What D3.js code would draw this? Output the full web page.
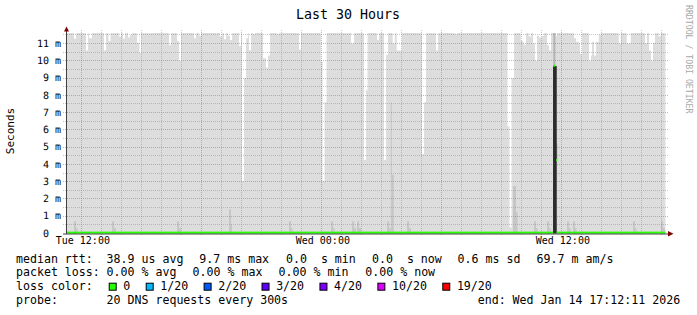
<!DOCTYPE html>
<html><head><meta charset="utf-8">
<script src="https://cdn.jsdelivr.net/npm/d3@7"></script>
<style>
body{margin:0;background:#fff;}
svg{display:block;}
text{font-family:"DejaVu Sans Mono",monospace;white-space:pre;}
</style></head><body>
<svg id="c" width="697" height="315"></svg>
<script>
// ---------------- data ----------------
const title = "Last 30 Hours";
const yAxisLabel = "Seconds";
const watermark = "RRDTOOL / TOBI OETIKER";
// time in hours since Tue 00:00
const timeStartH = 11.2031;   // Tue 11:12:11
const timeEndH = 41.2031;     // Wed 17:12:11
const xTickHours = [12, 24, 36];
const xTickLabels = ["Tue 12:00", "Wed 00:00", "Wed 12:00"];
const yTickValues = [0,1,2,3,4,5,6,7,8,9,10,11];
const yTickLabels = ["0","1 m","2 m","3 m","4 m","5 m","6 m","7 m","8 m","9 m","10 m","11 m"];
const yMaxMs = 11.58;
// upper edge of the smoke where the slowest ping stayed below the top: [startH, endH, ms]
const smokeTopDips = [
  [11.635,11.735,11.28],[12.235,12.335,10.6],[12.385,12.535,11.3],[13.135,13.235,10.6],
  [13.36,13.46,11.15],[13.885,13.985,11.4],[14.085,14.185,11.28],[14.335,14.435,11.35],
  [14.435,14.535,11.5],[14.785,14.885,11.05],[14.91,14.985,10.45],[15.385,15.485,11.58],
  [16.385,16.485,10.9],[16.785,16.885,11.15],[16.885,16.985,10.0],[17.635,17.735,11.3],
  [17.885,17.985,11.45],[18.935,19.035,11.4],[19.135,19.235,11.25],[19.335,19.435,11.45],
  [19.435,19.535,11.2],[19.885,19.985,10.85],[20.035,20.135,3.04],[20.135,20.235,9.0],
  [20.235,20.335,11.3],[20.385,20.485,10.6],[20.585,20.685,11.55],[21.085,21.235,10.15],
  [21.235,21.335,9.6],[21.335,21.435,10.3],[21.785,21.885,11.55],[22.885,22.985,10.65],
  [23.975,24.06,9.98],[24.06,24.16,3.04],[24.16,24.26,7.6],[25.485,25.635,11.0],
  [26.135,26.235,4.26],[26.235,26.31,8.3],[26.785,26.885,11.2],[27.135,27.235,4.26],
  [27.235,27.335,10.35],[27.57,27.67,11.0],[27.77,28.02,10.6],[29.035,29.135,4.6],
  [29.135,29.235,7.6],[29.735,29.835,10.6],[30.685,30.785,11.55],[33.31,33.41,6.2],
  [33.41,33.51,0.35],[33.51,33.635,9.0],[33.97,34.1,11.15],[34.1,34.235,10.95],
  [34.37,34.485,11.4],[34.585,34.685,11.0],[34.685,34.785,10.0],[34.785,34.885,11.45],
  [34.885,35.035,11.35],[35.035,35.135,11.45],[35.285,35.385,10.9],[35.385,35.485,10.6],
  [35.71,35.785,11.45],[36.635,36.735,11.3],[36.735,36.87,11.1],[36.87,36.935,11.0],
  [36.935,37.035,10.4],[37.385,37.485,10.0],[37.485,37.535,10.3],[37.535,37.635,11.1],
  [37.635,37.735,10.3],[37.735,37.87,11.1],[37.87,37.97,11.5],[38.87,38.97,11.0],
  [39.27,39.47,11.0],[40.185,40.285,11.0],[40.385,40.485,10.6],[40.485,40.585,10.0],
  [40.585,40.685,11.05],[40.87,40.97,11.4]
];
// darker smoke (several pings overlapping): [startH, endH, topMs]
const smokeDarkBands = [
  [11.635,11.735,0.7],[11.735,11.81,0.31],[13.535,13.635,0.7],[13.635,13.735,0.31],
  [16.785,16.885,0.7],[16.885,16.985,0.31],[19.385,19.485,1.4],[19.485,19.535,0.56],
  [22.385,22.485,0.7],[22.485,22.56,0.31],[24.485,24.585,0.7],[24.585,24.66,0.31],
  [25.535,25.635,0.7],[25.635,25.735,0.31],[25.785,25.885,0.7],[25.885,25.985,0.31],
  [27.285,27.385,0.7],[27.385,27.47,0.31],[27.47,27.52,7.6],[27.52,27.62,3.4],
  [28.285,28.385,0.7],[28.385,28.485,0.31],[33.585,33.735,2.75],[33.735,33.81,1.23],
  [34.635,34.735,0.7],[34.735,34.81,0.31],[35.285,35.385,0.7],[35.385,35.46,0.31],
  [36.285,36.385,0.7],[36.385,36.46,0.31],[36.585,36.685,0.7],[36.685,36.76,0.31],
  [39.585,39.685,0.7],[39.685,39.76,0.31],[40.985,41.085,0.7],[41.085,41.185,0.31]
];
// mid-grey smoke around the slow sample: [startH, endH, fromMs, toMs]
const smokeMidBands = [[35.6,35.7,9.7,12],[35.7,35.8,4.24,5.2]];
// darkest smoke core: [startH, endH, fromMs, toMs]
const smokeCoreBands = [[35.585,35.77,0,9.7]];
// median rtt
const medianBaseMs = 0.0389;
const medianSpikes = [[35.6,35.7,9.7],[35.735,35.8,4.24]];
// legend
const legendStats = [
  ["median rtt:", "38.9 us avg", "9.7 ms max", "0.0  s min", "0.0  s now", "0.6 ms sd", "69.7 m am/s"],
  ["packet loss:", "0.00 % avg", "0.00 % max", "0.00 % min", "0.00 % now"]
];
const lossLabels = ["0","1/20","2/20","3/20","4/20","10/20","19/20"];
const lossColors = ["#26ff00","#00b8ff","#0059ff","#5e00ff","#7e00ff","#dd00ff","#ff0000"];
const probeText = "20 DNS requests every 300s";
const endText = "end: Wed Jan 14 17:12:11 2026";

// ---------------- layout ----------------
const svg = d3.select("#c");
const X0 = 65.4, X1 = 665.4, Y0 = 233.5, Y1 = 33.5;
const x = d3.scaleLinear().domain([timeStartH, timeEndH]).range([X0, X1]);
const y = d3.scaleLinear().domain([0, yMaxMs]).range([Y0, Y1]);

svg.append("rect").attr("width",697).attr("height",315).attr("fill","#fff");
svg.append("defs").append("clipPath").attr("id","cv")
  .append("rect").attr("x",67).attr("y",33).attr("width",599).attr("height",201);

const g = svg.append("g").attr("clip-path","url(#cv)");

// base smoke (light grey) with dips
const TOP = 12.5;
const pts = [[timeStartH, TOP]];
smokeTopDips.slice().sort((a,b)=>a[0]-b[0]).forEach(d => { pts.push([d[0], d[2]]); pts.push([d[1], TOP]); });
pts.push([timeEndH, TOP]);
g.append("path").datum(pts)
  .attr("d", d3.area().curve(d3.curveStepAfter).x(d=>x(d[0])).y0(y(0)).y1(d=>y(d[1])))
  .attr("fill","#dddddd");

g.selectAll(".mid").data(smokeMidBands).join("rect")
  .attr("x",d=>x(d[0])).attr("width",d=>x(d[1])-x(d[0]))
  .attr("y",d=>y(d[3])).attr("height",d=>y(d[2])-y(d[3])).attr("fill","#b4b4b4");

g.selectAll(".dark").data(smokeDarkBands).join("rect")
  .attr("x",d=>x(d[0])).attr("width",d=>x(d[1])-x(d[0]))
  .attr("y",d=>y(d[2])).attr("height",d=>y(0)-y(d[2])).attr("fill","#c6c6c6");

// grid
const gridG = svg.append("g");
const crisp = v => Math.round(v - 0.5) + 0.5;
const hMinor = d3.range(0.5, yMaxMs, 1);
const hMajor = d3.range(1, yMaxMs, 1);
gridG.selectAll(".hm").data(hMinor).join("line")
  .attr("x1",63).attr("x2",669).attr("y1",d=>crisp(y(d))).attr("y2",d=>crisp(y(d)))
  .attr("stroke","rgba(143,143,143,0.5)").attr("stroke-dasharray","1,1");
gridG.selectAll(".hM").data(hMajor).join("line")
  .attr("x1",63).attr("x2",669).attr("y1",d=>crisp(y(d))).attr("y2",d=>crisp(y(d)))
  .attr("stroke","rgba(222,80,80,0.5)").attr("stroke-dasharray","1,1");
const vHours = d3.range(Math.ceil(timeStartH), timeEndH, 1);
gridG.selectAll(".vm").data(vHours.filter(h=>h%6!==0)).join("line")
  .attr("y1",30).attr("y2",236).attr("x1",d=>crisp(x(d))).attr("x2",d=>crisp(x(d)))
  .attr("stroke","rgba(143,143,143,0.5)").attr("stroke-dasharray","1,1");
gridG.selectAll(".vM").data(vHours.filter(h=>h%6===0)).join("line")
  .attr("y1",30).attr("y2",236).attr("x1",d=>crisp(x(d))).attr("x2",d=>crisp(x(d)))
  .attr("stroke","rgba(222,80,80,0.5)").attr("stroke-dasharray","1,1");

// darkest core
svg.append("g").selectAll("rect").data(smokeCoreBands).join("rect")
  .attr("x",d=>x(d[0])).attr("width",d=>x(d[1])-x(d[0]))
  .attr("y",d=>y(d[3])).attr("height",d=>y(d[2])-y(d[3])).attr("fill","#2b2b2b");

// median (loss colour 0)
const spikes = medianSpikes.slice().sort((a,b)=>a[0]-b[0]);
const medSegs = [];
let cur = timeStartH + 0.02;
spikes.forEach(s => { if (s[0] > cur) medSegs.push([cur, Math.min(s[0], 35.585), medianBaseMs]); cur = Math.max(cur, 35.77); });
medSegs.push([cur, timeEndH, medianBaseMs]);
spikes.forEach(s => medSegs.push(s));
svg.append("g").selectAll("rect").data(medSegs).join("rect")
  .attr("x",d=>Math.max(67, x(d[0]))).attr("width",d=>Math.min(666,x(d[1]))-Math.max(67,x(d[0])))
  .attr("y",d=>y(d[2])-1.2).attr("height",2).attr("fill",lossColors[0]);

// axes lines + arrows
svg.append("line").attr("x1",66.5).attr("x2",66.5).attr("y1",234).attr("y2",30).attr("stroke","#404040");
svg.append("line").attr("x1",63).attr("x2",669).attr("y1",234).attr("y2",234).attr("stroke","#404040");
svg.append("path").attr("d","M64,31.5 L69,31.5 L66.5,26.5 Z").attr("fill","#7f0000");
svg.append("path").attr("d","M668,231 L668,236.5 L673.5,233.75 Z").attr("fill","#7f0000");

// axis labels via d3 axes
const yAx = svg.append("g").attr("transform","translate(61,0)")
  .call(d3.axisLeft(y).tickValues(yTickValues).tickSize(0).tickPadding(0).offset(0)
    .tickFormat((d,i)=>yTickLabels[i]));
yAx.select(".domain").remove();
yAx.selectAll("text").attr("font-family","DejaVu Sans Mono").attr("font-size","10px")
  .style("fill","#000").attr("text-rendering","geometricPrecision")
  .attr("dy","0.32em").attr("x",(d,i)=> yTickLabels[i].indexOf(" ")<0 ? -12 : 0);

const xAx = svg.append("g").attr("transform","translate(0,236)")
  .call(d3.axisBottom(x).tickValues(xTickHours).tickSize(0).tickPadding(0)
    .tickFormat((d,i)=>xTickLabels[i]));
xAx.select(".domain").remove();
xAx.selectAll("text").attr("font-family","DejaVu Sans Mono").attr("font-size","10px").style("fill","#000")
  .attr("dy","0.8em").attr("x",1);

// title etc
svg.append("text").attr("x",348).attr("y",18.5).attr("text-anchor","middle")
  .attr("font-size","13.3px").attr("fill","#000").text(title);
svg.append("text").attr("transform","translate(14,131) rotate(-90)").attr("text-anchor","middle")
  .attr("font-size","11px").attr("fill","#000").text(yAxisLabel);
svg.append("text").attr("transform","translate(685.5,5) rotate(90)")
  .attr("font-size","8.2px").attr("fill","#a8a8a8").text(watermark);

// legend
const FS = "11.6px";
const rowY = [262.6, 276.4, 290.2, 304];
const row1X = [16, 106.6, 199.3, 286, 372, 457.6, 536.6];
const row2X = [16, 106.6, 192.6, 278.6, 365.3];
const leg = svg.append("g").attr("font-size",FS).attr("fill","#000");
leg.selectAll(".r1").data(legendStats[0]).join("text").attr("x",(d,i)=>row1X[i]).attr("y",rowY[0]).text(d=>d);
leg.selectAll(".r2").data(legendStats[1]).join("text").attr("x",(d,i)=>row2X[i]).attr("y",rowY[1]).text(d=>d);
leg.append("text").attr("x",16).attr("y",rowY[2]).text("loss color:");
let bx = 108.7;
lossLabels.forEach((lab,i) => {
  leg.append("rect").attr("x",bx+0.5).attr("y",283.2).attr("width",7).attr("height",7)
    .attr("fill",lossColors[i]).attr("stroke","#000").attr("stroke-width",1);
  const t = leg.append("text").attr("x",bx+14.6).attr("y",rowY[2]).text(lab);
  const w = t.node().getComputedTextLength();
  bx = bx + 14.6 + w + 15.4;
});
leg.append("text").attr("x",16).attr("y",rowY[3]).text("probe:");
leg.append("text").attr("x",106.6).attr("y",rowY[3]).text(probeText);
leg.append("text").attr("x",477.7).attr("y",rowY[3]).text(endText);
</script>
</body></html>
